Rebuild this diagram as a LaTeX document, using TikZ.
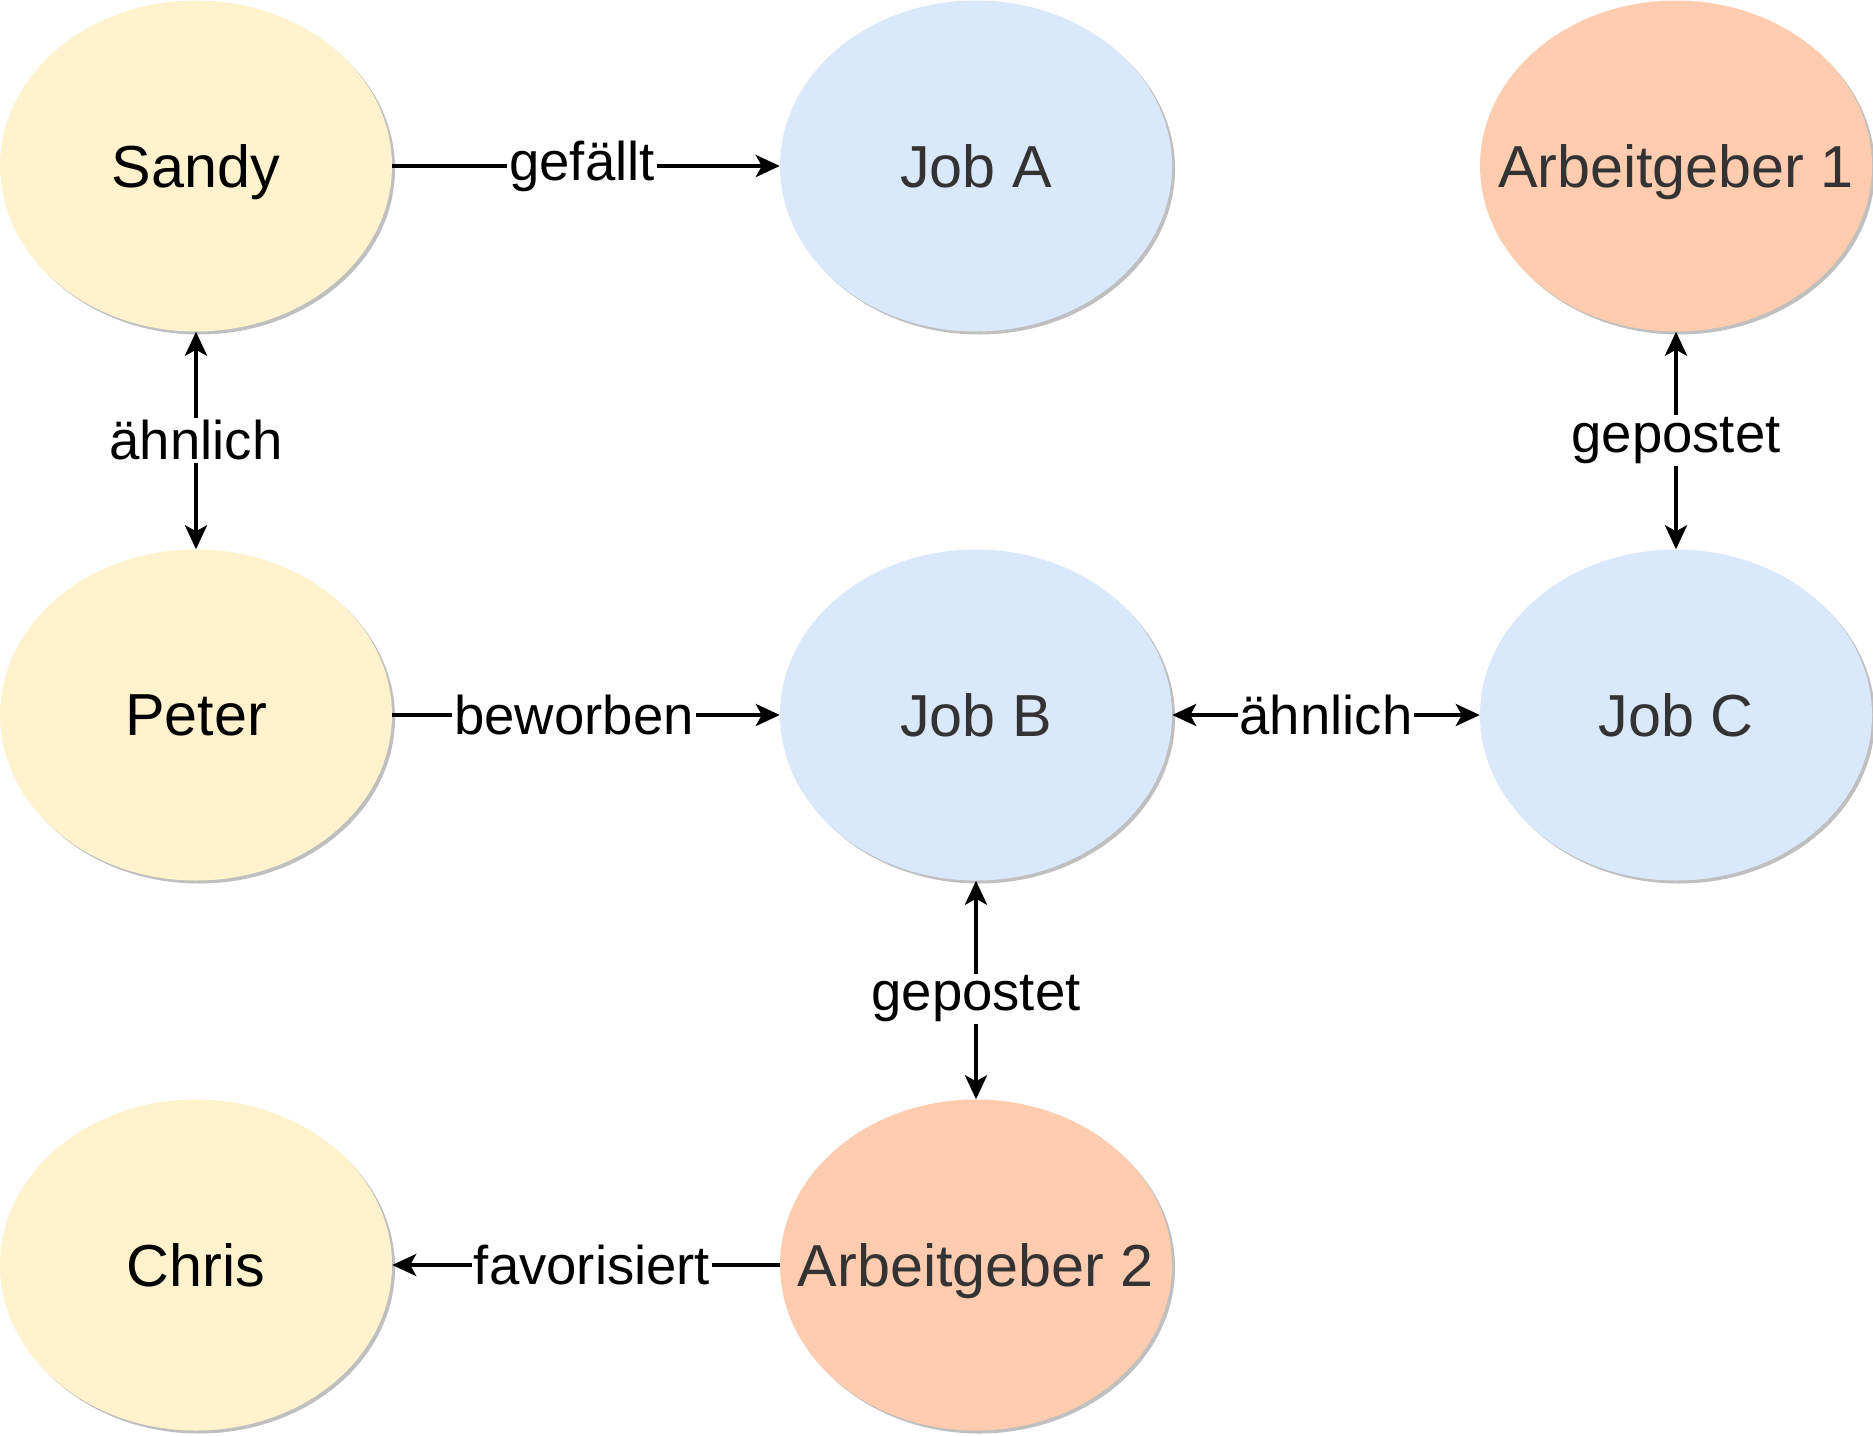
\documentclass[tikz,border=0pt]{standalone}
\usepackage{fontspec}
\setmainfont{Liberation Sans}
\usetikzlibrary{shapes.geometric,arrows.meta,shadows}
\definecolor{persfill}{HTML}{FFF2CC}
\definecolor{jobfill}{HTML}{DAE8FC}
\definecolor{empfill}{HTML}{FFCCB0}
\definecolor{txtgray}{HTML}{333333}
\definecolor{shgray}{HTML}{BFBFBF}
\newcommand{\ctxt}[1]{\makebox[0pt][c]{#1}}
\tikzset{
  ent/.style={ellipse, minimum width=392pt, minimum height=331pt, inner sep=0pt,
    font=\fontsize{59.3}{68}\selectfont, text depth=0pt,
    drop shadow={shadow xshift=3pt, shadow yshift=-3pt, fill=shgray, opacity=1}},
  person/.style={ent, fill=persfill, text=black},
  job/.style={ent, fill=jobfill, text=txtgray},
  employer/.style={ent, fill=empfill, text=txtgray},
  tip/.tip={Stealth[length=24pt,width=22pt,inset=6pt]},
  conn/.style={line width=4pt, -tip},
  biconn/.style={line width=4pt, tip-tip},
  lbl/.style={fill=white, inner sep=2pt, font=\fontsize{54.5}{62}\selectfont, text=black}
}
\begin{document}
\begin{tikzpicture}[x=1pt,y=-1pt]
\useasboundingbox (0,0) rectangle (1873,1435);
\node[person] (sandy) at (196,166) {\ctxt{Sandy}};
\node[job] (joba) at (976,166) {\ctxt{Job A}};
\node[employer] (arb1) at (1676,166) {\ctxt{Arbeitgeber 1}};
\node[person] (peter) at (196,715) {\ctxt{Peter}};
\node[job] (jobb) at (976,715) {\ctxt{Job B}};
\node[job] (jobc) at (1676,715) {\ctxt{Job C}};
\node[person] (chris) at (196,1265) {\ctxt{Chris}};
\node[employer] (arb2) at (976,1265) {\ctxt{Arbeitgeber 2}};

\draw[conn] (sandy) -- node[lbl, xshift=-4pt] {gefällt} (joba);
\draw[biconn] (sandy) -- node[lbl] {ähnlich} (peter);
\draw[conn] (peter) -- node[lbl, xshift=-12pt] {beworben} (jobb);
\draw[biconn] (jobb) -- node[lbl] {ähnlich} (jobc);
\draw[biconn] (arb1) -- node[lbl] {gepostet} (jobc);
\draw[biconn] (jobb) -- node[lbl, yshift=-9pt] {gepostet} (arb2);
\draw[conn] (arb2) -- node[lbl, xshift=6pt] {favorisiert} (chris);
\end{tikzpicture}
\end{document}
